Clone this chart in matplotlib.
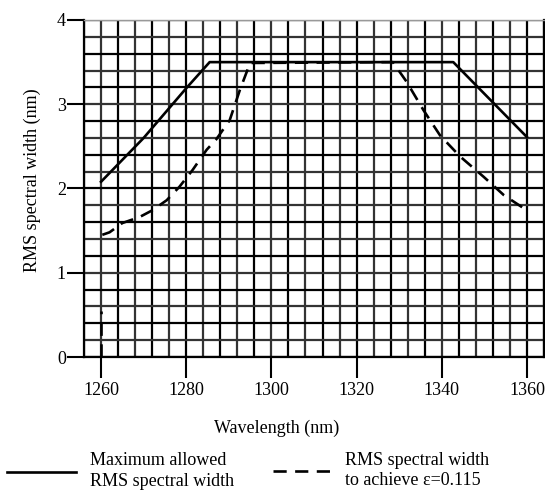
import numpy as np
import matplotlib
matplotlib.use('Agg')
import matplotlib.pyplot as plt
from matplotlib.lines import Line2D

plt.rcParams['font.family'] = ['Liberation Serif', 'DejaVu Serif']

# Maximum allowed RMS spectral width (solid)
max_x = [1260, 1270, 1280, 1285.5, 1342.7, 1360]
max_y = [2.08, 2.60, 3.19, 3.50, 3.50, 2.61]

# RMS spectral width to achieve eps=0.115 (dashed)
eps_x = [1260.3, 1262, 1265, 1269, 1272, 1275.4, 1278.4, 1281.5, 1284.8,
         1287, 1290.2, 1292.6, 1295, 1328.5, 1331.7, 1335.7, 1339.6,
         1344.3, 1349.8, 1354.6, 1360]
eps_y = [1.45, 1.48, 1.59, 1.66, 1.74, 1.86, 2.02, 2.22, 2.46,
         2.58, 2.81, 3.17, 3.49, 3.50, 3.27, 2.93, 2.63,
         2.38, 2.14, 1.92, 1.74]
# short piece of the dashed curve near 1260 nm
stub_x = [1260, 1260]
stub_y = [0.0, 0.55]

x_ticks = [1260, 1280, 1300, 1320, 1340, 1360]
y_ticks = [0, 1, 2, 3, 4]

fig = plt.figure(figsize=(5.45, 4.9), dpi=100)
ax = fig.add_axes([84/545, 1-357/490, 460/545, 337/490])
ax.set_xlim(1256, 1364)
ax.set_ylim(0, 4)

# graph paper grid
for i, gx in enumerate(np.arange(1256, 1364.1, 4)):
    ax.axvline(gx, color='black' if i % 2 == 0 else '0.2', lw=1.6, zorder=1)
for i, gy in enumerate(np.arange(0, 4.01, 0.2)):
    ax.axhline(gy, color='black' if i % 2 == 0 else '0.2', lw=1.6, zorder=1)

ax.plot(eps_x, eps_y, color='black', lw=1.9, dashes=(5, 3.2), zorder=3)
ax.plot(stub_x, stub_y, color='black', lw=1.9, dashes=(5, 3.2), zorder=3)
ax.plot(max_x, max_y, color='black', lw=1.9, zorder=4)

ax.set_xticks(x_ticks)
ax.set_yticks(y_ticks)
ax.tick_params(axis='x', direction='out', length=15, width=1.5, pad=3,
               labelsize=13)
ax.tick_params(axis='y', direction='out', length=12, width=1.5, pad=1,
               labelsize=13)
for s in ax.spines.values():
    s.set_linewidth(1.6)
ax.spines['top'].set_color('0.6')
ax.spines['top'].set_linewidth(1)

ax.set_ylabel('RMS spectral width (nm)', fontsize=13)
ax.yaxis.set_label_coords(-0.094, 0.525)
fig.text(277/545, 1-428/490, 'Wavelength (nm)', fontsize=13,
         ha='center', va='center')

# legend below the chart
fig.add_artist(Line2D([7/545, 76/545], [1-472/490]*2, color='black', lw=1.9,
                      transform=fig.transFigure))
fig.text(90/545, 1-460/490, 'Maximum allowed', fontsize=13, va='center')
fig.text(90/545, 1-481/490, 'RMS spectral width', fontsize=13, va='center')
fig.add_artist(Line2D([273/545, 336/545], [1-471/490]*2, color='black', lw=1.9,
                      dashes=(5, 3.2), transform=fig.transFigure))
fig.text(345/545, 1-460/490, 'RMS spectral width', fontsize=13, va='center')
fig.text(345/545, 1-480/490, 'to achieve \u03b5=0.115', fontsize=13, va='center')

fig.savefig('out.png', dpi=100)
